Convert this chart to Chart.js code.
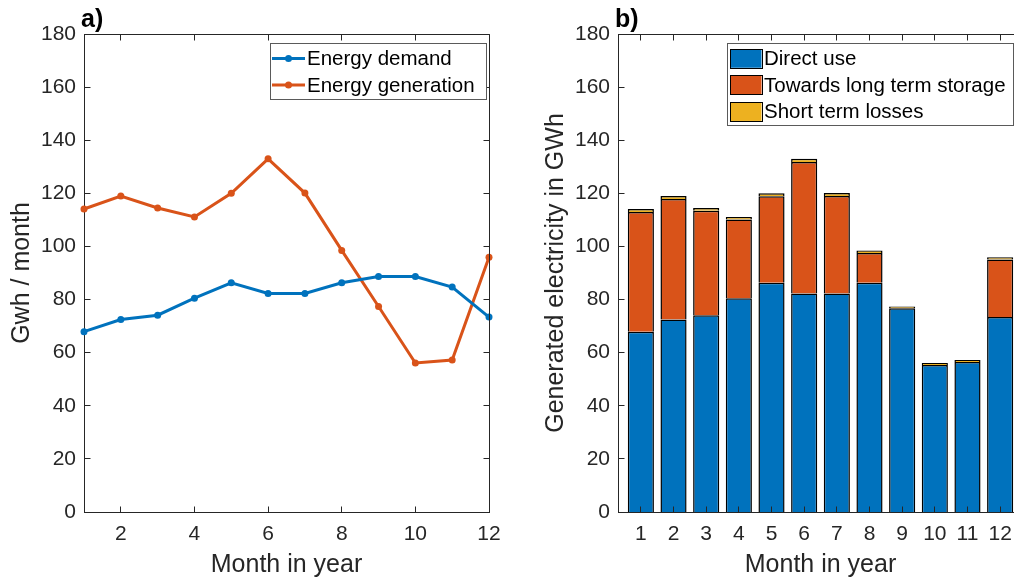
<!DOCTYPE html>
<html>
<head>
<meta charset="utf-8">
<script src="https://cdn.jsdelivr.net/npm/chart.js@4/dist/chart.umd.min.js"></script>
<style>
  html, body { margin: 0; padding: 0; background: #fff; overflow: hidden; width: 1014px; height: 582px; }
  .panel { position: absolute; top: 0; width: 500px; height: 582px; }
  #panelA { left: 0; }
  #panelB { left: 534px; }
</style>
</head>
<body>
<div class="panel" id="panelA"><canvas id="lineCanvas" width="500" height="582"></canvas></div>
<div class="panel" id="panelB"><canvas id="barCanvas" width="500" height="582"></canvas></div>
<script>
// Monthly energy balance (GWh)
const months = [1, 2, 3, 4, 5, 6, 7, 8, 9, 10, 11, 12];
const energyDemand = [67.9, 72.5, 74.1, 80.5, 86.3, 82.3, 82.3, 86.3, 88.7, 88.7, 84.7, 73.4];
const energyGeneration = [114.1, 119.0, 114.5, 111.1, 120.0, 133.0, 120.1, 98.5, 77.4, 56.1, 57.2, 95.9];
const directUse = [67.9, 72.5, 74.1, 80.5, 86.3, 82.3, 82.3, 86.3, 76.7, 55.4, 56.5, 73.4];
const longTermStorage = [45.1, 45.4, 39.3, 29.6, 32.6, 49.5, 36.7, 11.2, 0, 0, 0, 21.7];
const shortTermLosses = [1.1, 1.1, 1.1, 1.0, 1.1, 1.2, 1.1, 1.0, 0.7, 0.7, 0.7, 0.8];
const yTickValues = [0, 20, 40, 60, 80, 100, 120, 140, 160, 180];
const lineXTickValues = [2, 4, 6, 8, 10, 12];
const barXTickValues = months;

const FONT = "'Liberation Sans', Arial, Helvetica, sans-serif";
const INK = '#262626';
const BLUE = '#0072BD', ORANGE = '#D95319', YELLOW = '#EDB120';

const align = p => Math.round(p - 0.5) + 0.5;

// Inward tick marks on all four sides plus the top/right box edges
const boxTicks = {
  id: 'boxTicks',
  afterDatasetsDraw(chart, args, o) {
    const { ctx, chartArea: a } = chart;
    const xs = chart.scales.x, ys = chart.scales.y;
    const L = 6;
    ctx.save();
    ctx.strokeStyle = INK;
    ctx.lineWidth = 1;
    ctx.beginPath();
    const top = align(a.top), right = align(a.right), left = align(a.left), bottom = align(a.bottom);
    ctx.moveTo(left, top); ctx.lineTo(right, top);
    if (o.rightEdge) { ctx.moveTo(right, top); ctx.lineTo(right, bottom); }
    xs.ticks.forEach(t => {
      const px = align(xs.getPixelForValue(t.value));
      ctx.moveTo(px, bottom); ctx.lineTo(px, bottom - L);
      ctx.moveTo(px, top); ctx.lineTo(px, top + L);
    });
    ys.ticks.forEach(t => {
      const py = align(ys.getPixelForValue(t.value));
      ctx.moveTo(left, py); ctx.lineTo(left + L, py);
      if (o.rightEdge) { ctx.moveTo(right, py); ctx.lineTo(right - L, py); }
    });
    ctx.stroke();
    ctx.restore();
  }
};

// Bold panel tag above the top-left corner of the plot
const panelTag = {
  id: 'panelTag',
  afterDraw(chart, args, o) {
    const { ctx, chartArea: a } = chart;
    ctx.save();
    ctx.font = `bold 25px ${FONT}`;
    ctx.fillStyle = '#000';
    ctx.textBaseline = 'alphabetic';
    ctx.fillText(o.text, a.left - 3, a.top - 7);
    ctx.restore();
  }
};

// Boxed legend inside the top-right corner of the plot
const boxLegend = {
  id: 'boxLegend',
  afterDraw(chart, args, o) {
    const { ctx, chartArea: a } = chart;
    const sets = chart.data.datasets;
    const rowH = 26.6, firstRow = 15.5;
    const h = firstRow * 2 + (sets.length - 1) * rowH - 2;
    const x0 = a.right - o.inset - o.width, y0 = a.top + 9;
    ctx.save();
    ctx.fillStyle = '#fff';
    ctx.fillRect(x0, y0, o.width, h);
    ctx.strokeStyle = '#5a5a5a';
    ctx.lineWidth = 1;
    ctx.strokeRect(align(x0), align(y0), Math.round(o.width), Math.round(h));
    ctx.font = `20.5px ${FONT}`;
    ctx.textBaseline = 'middle';
    sets.forEach((ds, i) => {
      const cy = y0 + firstRow + i * rowH;
      let tx;
      if (o.kind === 'line') {
        const sx = x0 + 2, sw = 33;
        ctx.strokeStyle = ds.borderColor;
        ctx.lineWidth = 3;
        ctx.beginPath(); ctx.moveTo(sx, cy); ctx.lineTo(sx + sw, cy); ctx.stroke();
        ctx.fillStyle = ds.borderColor;
        ctx.beginPath(); ctx.arc(sx + sw / 2, cy, 3.5, 0, Math.PI * 2); ctx.fill();
        tx = sx + sw + 2;
      } else {
        const sx = x0 + 3, sw = 31.5, sh = 18.5;
        ctx.fillStyle = ds.backgroundColor;
        ctx.fillRect(sx, cy - sh / 2, sw, sh);
        ctx.strokeStyle = '#000';
        ctx.lineWidth = 1;
        ctx.strokeRect(align(sx), align(cy - sh / 2), Math.round(sw), Math.round(sh));
        tx = sx + sw + 2.5;
      }
      ctx.fillStyle = '#000';
      ctx.fillText(ds.label, tx, cy + 1);
    });
    ctx.restore();
  }
};

function yAxis(titleText) {
  return {
    type: 'linear',
    min: 0, max: 180,
    afterFit: s => { s.width = 84; s.paddingTop = 0; s.paddingBottom = 0; },
    afterBuildTicks: s => { s.ticks = yTickValues.map(v => ({ value: v })); },
    grid: { display: false, drawTicks: false },
    border: { display: true, color: INK, width: 1 },
    ticks: { color: INK, font: { family: FONT, size: 21 }, padding: 8 },
    title: { display: true, text: titleText, color: INK, font: { family: FONT, size: 25 }, padding: { top: 7, bottom: 0 } }
  };
}

function xAxis(min, max, tickValues) {
  return {
    type: 'linear',
    min: min, max: max,
    afterFit: s => { s.height = 70; s.paddingLeft = 0; s.paddingRight = 0; },
    afterBuildTicks: s => { s.ticks = tickValues.map(v => ({ value: v })); },
    grid: { display: false, drawTicks: false },
    border: { display: true, color: INK, width: 1 },
    ticks: { color: INK, font: { family: FONT, size: 21 }, padding: 10, maxRotation: 0, autoSkip: false },
    title: { display: true, text: 'Month in year', color: INK, font: { family: FONT, size: 25 }, padding: { top: 0, bottom: 2 } }
  };
}

const common = {
  responsive: false,
  animation: false,
  devicePixelRatio: 1,
  layout: { padding: { top: 34, left: 0, right: 11, bottom: 0 } },
};

new Chart(document.getElementById('lineCanvas'), {
  type: 'line',
  data: {
    datasets: [
      {
        label: 'Energy demand',
        data: months.map((m, i) => ({ x: m, y: energyDemand[i] })),
        borderColor: BLUE, backgroundColor: BLUE,
        borderWidth: 3, pointRadius: 3.5, pointBorderWidth: 0, tension: 0, clip: false
      },
      {
        label: 'Energy generation',
        data: months.map((m, i) => ({ x: m, y: energyGeneration[i] })),
        borderColor: ORANGE, backgroundColor: ORANGE,
        borderWidth: 3, pointRadius: 3.5, pointBorderWidth: 0, tension: 0, clip: false
      }
    ]
  },
  options: Object.assign({}, common, {
    scales: { x: xAxis(1, 12, lineXTickValues), y: yAxis('Gwh / month') },
    plugins: {
      legend: { display: false },
      tooltip: { enabled: false },
      boxTicks: { rightEdge: true },
      panelTag: { text: 'a)' },
      boxLegend: { kind: 'line', width: 216, inset: 3 }
    }
  }),
  plugins: [boxTicks, panelTag, boxLegend]
});

const barStyle = {
  borderColor: '#000',
  borderWidth: { top: 1.5, left: 1.5, right: 1.5, bottom: 0 },
  borderSkipped: false,
  barPercentage: 0.8,
  categoryPercentage: 1
};

new Chart(document.getElementById('barCanvas'), {
  type: 'bar',
  data: {
    datasets: [
      Object.assign({ label: 'Direct use', backgroundColor: BLUE,
        data: months.map((m, i) => ({ x: m, y: directUse[i] })) }, barStyle),
      Object.assign({ label: 'Towards long term storage', backgroundColor: ORANGE,
        data: months.map((m, i) => ({ x: m, y: longTermStorage[i] })) }, barStyle),
      Object.assign({ label: 'Short term losses', backgroundColor: YELLOW,
        data: months.map((m, i) => ({ x: m, y: shortTermLosses[i] })) }, barStyle)
    ]
  },
  options: Object.assign({}, common, {
    scales: {
      x: Object.assign(xAxis(0.3, 12.7, barXTickValues), { stacked: true, offset: false }),
      y: Object.assign(yAxis('Generated electricity in GWh'), { stacked: true })
    },
    plugins: {
      legend: { display: false },
      tooltip: { enabled: false },
      boxTicks: { rightEdge: false },
      panelTag: { text: 'b)' },
      boxLegend: { kind: 'bar', width: 286, inset: 10 }
    }
  }),
  plugins: [boxTicks, panelTag, boxLegend]
});
</script>
</body>
</html>
